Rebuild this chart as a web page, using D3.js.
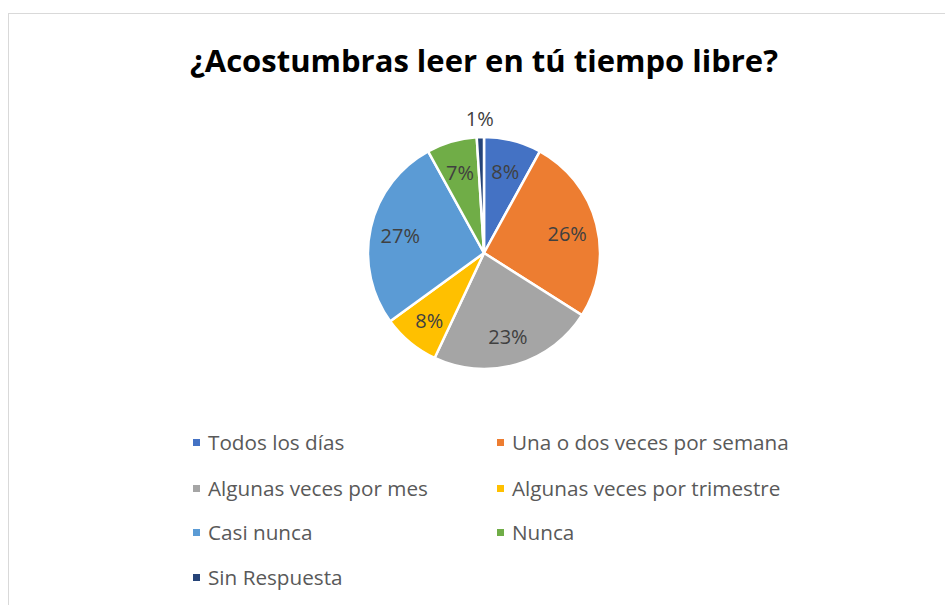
<!DOCTYPE html>
<html>
<head>
<meta charset="utf-8">
<script src="https://cdn.jsdelivr.net/npm/d3@7"></script>
<style>
  body { margin: 0; background: #fff; }
  text { font-family: "Open Sans", "Noto Sans", sans-serif; }
</style>
</head>
<body>
<div id="chart"></div>
<script>
const categories = ["Todos los días", "Una o dos veces por semana", "Algunas veces por mes",
                    "Algunas veces por trimestre", "Casi nunca", "Nunca", "Sin Respuesta"];
const values = [8, 26, 23, 8, 27, 7, 1];
const colors = ["#4472C4", "#ED7D31", "#A5A5A5", "#FFC000", "#5B9BD5", "#70AD47", "#264478"];
const title = "¿Acostumbras leer en tú tiempo libre?";

const width = 945, height = 605;
const cx = 484, cy = 253, radius = 116;

const svg = d3.select("#chart")
    .append("svg")
    .attr("width", width)
    .attr("height", height);

// chart frame
svg.append("rect")
    .attr("x", 8.5).attr("y", 13.5)
    .attr("width", 960).attr("height", 640)
    .attr("fill", "#fff")
    .attr("stroke", "#d9d9d9");

// title, sized to the width seen in the picture
const titleText = svg.append("text")
    .attr("x", cx)
    .attr("y", 72)
    .attr("text-anchor", "middle")
    .attr("font-weight", "bold")
    .attr("font-size", 30)
    .attr("fill", "#000")
    .text(title);
let tw = titleText.node().getComputedTextLength();
titleText.attr("font-size", 30 * 588 / tw);

const pie = d3.pie().sort(null).value(d => d)(values);
const arc = d3.arc().innerRadius(0).outerRadius(radius);
const labelArc = d3.arc().innerRadius(radius * 0.74).outerRadius(radius * 0.74);
const outerArc = d3.arc().innerRadius(radius * 1.17).outerRadius(radius * 1.17);

const g = svg.append("g").attr("transform", "translate(" + cx + "," + cy + ")");

g.selectAll("path")
    .data(pie)
    .enter()
    .append("path")
    .attr("d", arc)
    .attr("fill", (d, i) => colors[i])
    .attr("stroke", "#fff")
    .attr("stroke-width", 2.5);

g.selectAll("text.lbl")
    .data(pie)
    .enter()
    .append("text")
    .attr("class", "lbl")
    .attr("transform", d => {
        const p = d.data < 3 ? outerArc.centroid(d) : labelArc.centroid(d);
        return "translate(" + p[0] + "," + (p[1] + 2) + ")";
    })
    .attr("text-anchor", "middle")
    .attr("dy", "0.35em")
    .attr("font-size", 20)
    .attr("fill", "#404040")
    .text(d => d.data + "%");

// legend
const legendX = [193, 497];
const legendY = [443, 489, 533, 578];
const legend = svg.append("g");
categories.forEach((c, i) => {
    const x = legendX[i % 2], y = legendY[Math.floor(i / 2)];
    legend.append("rect")
        .attr("x", x).attr("y", y - 4)
        .attr("width", 7).attr("height", 7)
        .attr("fill", colors[i]);
    legend.append("text")
        .attr("class", "leg")
        .attr("x", x + 15)
        .attr("y", y)
        .attr("dy", "0.35em")
        .attr("font-size", 18)
        .attr("fill", "#595959")
        .text(c);
});
// scale legend font so the longest entry matches the picture
const legNodes = legend.selectAll("text.leg").nodes();
const lw = legNodes[1].getComputedTextLength();
legend.selectAll("text.leg").attr("font-size", 18 * 277 / lw);
</script>
</body>
</html>
